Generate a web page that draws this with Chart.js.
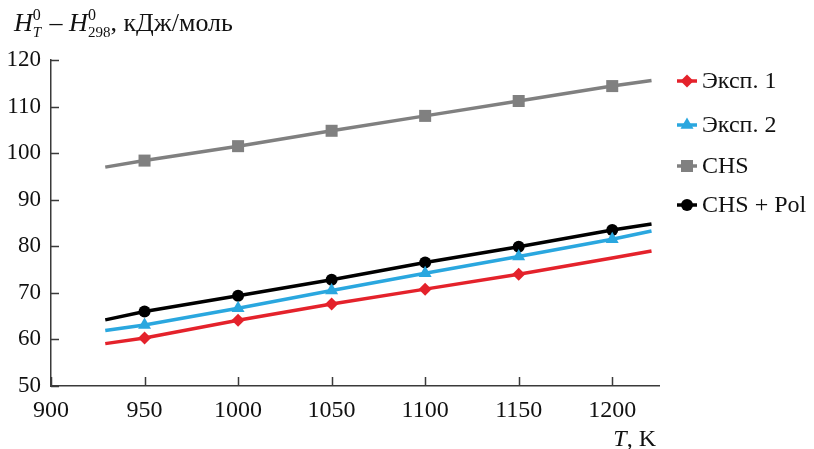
<!DOCTYPE html>
<html>
<head>
<meta charset="utf-8">
<script src="https://cdn.jsdelivr.net/npm/chart.js@4.4.1/dist/chart.umd.min.js"></script>
<style>
  html, body { margin: 0; padding: 0; background: #fff; }
  #wrap { width: 814px; height: 449px; position: relative; }
</style>
</head>
<body>
<div id="wrap"><canvas id="chart"></canvas></div>
<script>
// Temperatures, K (first and last points are the line ends, no marker)
const temps = [929, 950, 1000, 1050, 1100, 1150, 1200, 1221];

// H(T) - H(298), kJ/mol
const exp1 = [59.1, 60.3, 64.1, 67.6, 70.8, 74.0, 77.5, 79.0];
const exp2 = [61.9, 63.1, 66.7, 70.5, 74.2, 77.8, 81.5, 83.3];
const chs = [97.0, 98.4, 101.5, 104.8, 108.0, 111.2, 114.4, 115.6];
const chsPol = [64.2, 66.0, 69.4, 72.8, 76.5, 79.9, 83.5, 84.8];

// temperatures where a marker is drawn
const exp1Marks = [950, 1000, 1050, 1100, 1150];
const allMarks = [950, 1000, 1050, 1100, 1150, 1200];

const xTicks = [900, 950, 1000, 1050, 1100, 1150, 1200];
const yTicks = [50, 60, 70, 80, 90, 100, 110, 120];

const FONT = "'Liberation Serif', 'DejaVu Serif', serif";
const AXIS_COLOR = "#3a3a3a";

function toPoints(values) {
  return temps.map((t, i) => ({ x: t, y: values[i] }));
}

function makeSet(label, values, color, style, radius, marks) {
  return {
    label: label,
    data: toPoints(values),
    borderColor: color,
    backgroundColor: color,
    borderWidth: 3.5,
    pointStyle: style,
    pointRadius: (ctx) => (marks.includes(temps[ctx.dataIndex]) ? radius : 0),
    pointBorderWidth: 0,
    pointBorderColor: color,
    tension: 0,
    fill: false,
    legendRadius: radius,
  };
}

// draw a marker for the legend
function marker(ctx, style, x, y, r, color) {
  ctx.save();
  ctx.fillStyle = color;
  ctx.beginPath();
  if (style === "rectRot") {
    ctx.moveTo(x, y - r);
    ctx.lineTo(x + r, y);
    ctx.lineTo(x, y + r);
    ctx.lineTo(x - r, y);
  } else if (style === "triangle") {
    ctx.moveTo(x, y - r);
    ctx.lineTo(x + r * 0.866, y + r * 0.5);
    ctx.lineTo(x - r * 0.866, y + r * 0.5);
  } else if (style === "rect") {
    const s = r * Math.SQRT1_2;
    ctx.rect(x - s, y - s, 2 * s, 2 * s);
  } else {
    ctx.arc(x, y, r, 0, Math.PI * 2);
  }
  ctx.closePath();
  ctx.fill();
  ctx.restore();
}

const decorations = {
  id: "decorations",
  afterDraw(chart) {
    const ctx = chart.ctx;
    const xs = chart.scales.x;
    const ys = chart.scales.y;
    const area = chart.chartArea;

    // inward tick marks
    ctx.save();
    ctx.strokeStyle = AXIS_COLOR;
    ctx.lineWidth = 1.5;
    ctx.beginPath();
    yTicks.forEach((v) => {
      const py = Math.round(ys.getPixelForValue(v)) + 0.5;
      ctx.moveTo(area.left, py);
      ctx.lineTo(area.left + 8, py);
    });
    xTicks.forEach((v) => {
      const px = Math.round(xs.getPixelForValue(v)) + 0.5;
      ctx.moveTo(px, area.bottom);
      ctx.lineTo(px, area.bottom - 9);
    });
    ctx.stroke();
    ctx.restore();

    // y title with sub/superscripts
    ctx.save();
    ctx.fillStyle = "#111";
    ctx.textBaseline = "alphabetic";
    let x = 14;
    const base = 31;
    const part = (text, font, dy) => {
      ctx.font = font;
      ctx.fillText(text, x, base + dy);
      return ctx.measureText(text).width;
    };
    const supSub = (sup, sub, subItalic) => {
      ctx.font = "16px " + FONT;
      ctx.fillText(sup, x, base - 11);
      const w1 = ctx.measureText(sup).width;
      ctx.font = (subItalic ? "italic " : "") + "15px " + FONT;
      ctx.fillText(sub, x, base + 6);
      const w2 = ctx.measureText(sub).width;
      x += Math.max(w1, w2);
    };
    x += part("H", "italic 26px " + FONT, 0);
    supSub("0", "T", true);
    x += 2;
    x += part(" \u2013 ", "26px " + FONT, 0);
    x += part("H", "italic 26px " + FONT, 0);
    supSub("0", "298", false);
    x += part(", кДж/моль", "26px " + FONT, 0);

    // x title
    ctx.font = "24px " + FONT;
    const tail = ", K";
    const wTail = ctx.measureText(tail).width;
    ctx.font = "italic 24px " + FONT;
    const wT = ctx.measureText("T").width;
    let tx = 656 - wTail - wT;
    ctx.fillText("T", tx, 446);
    ctx.font = "24px " + FONT;
    ctx.fillText(tail, tx + wT, 446);
    ctx.restore();

    // legend
    const rows = [81, 125, 166, 205];
    ctx.save();
    chart.data.datasets.forEach((ds, i) => {
      const y = rows[i];
      ctx.strokeStyle = ds.borderColor;
      ctx.lineWidth = 3.5;
      ctx.beginPath();
      ctx.moveTo(677, y);
      ctx.lineTo(697, y);
      ctx.stroke();
      marker(ctx, ds.pointStyle, 687, y, ds.legendRadius, ds.borderColor);
      ctx.fillStyle = "#111";
      ctx.font = "24px " + FONT;
      ctx.textBaseline = "middle";
      ctx.fillText(ds.label, 702, y + 1);
    });
    ctx.restore();
  },
};

new Chart(document.getElementById("chart"), {
  type: "line",
  data: {
    datasets: [
      makeSet("Эксп. 1", exp1, "#e4222b", "rectRot", 6.5, exp1Marks),
      makeSet("Эксп. 2", exp2, "#2aa7df", "triangle", 7.5, allMarks),
      makeSet("CHS", chs, "#808080", "rect", 8.5, allMarks),
      makeSet("CHS + Pol", chsPol, "#000000", "circle", 6, allMarks),
    ],
  },
  options: {
    responsive: true,
    maintainAspectRatio: false,
    animation: false,
    layout: { padding: { left: 0, right: 155, top: 60, bottom: 0 } },
    plugins: {
      legend: { display: false },
      tooltip: { enabled: false },
    },
    scales: {
      x: {
        type: "linear",
        min: 900,
        max: 1225,
        afterBuildTicks: (scale) => {
          scale.ticks = xTicks.map((v) => ({ value: v }));
        },
        afterFit: (scale) => {
          scale.height = 63;
        },
        grid: { display: false, drawTicks: false },
        border: { display: true, color: AXIS_COLOR, width: 1.5 },
        ticks: {
          color: "#111",
          padding: 10,
          maxRotation: 0,
          font: { family: FONT, size: 24 },
          callback: (v) => String(v),
        },
      },
      y: {
        min: 50,
        max: 120,
        afterBuildTicks: (scale) => {
          scale.ticks = yTicks.map((v) => ({ value: v }));
        },
        afterFit: (scale) => {
          scale.width = 51;
        },
        grid: { display: false, drawTicks: false },
        border: { display: true, color: AXIS_COLOR, width: 1.5 },
        ticks: {
          color: "#111",
          padding: 10,
          font: { family: FONT, size: 23 },
          callback: (v) => String(v),
        },
      },
    },
  },
  plugins: [decorations],
});
</script>
</body>
</html>
